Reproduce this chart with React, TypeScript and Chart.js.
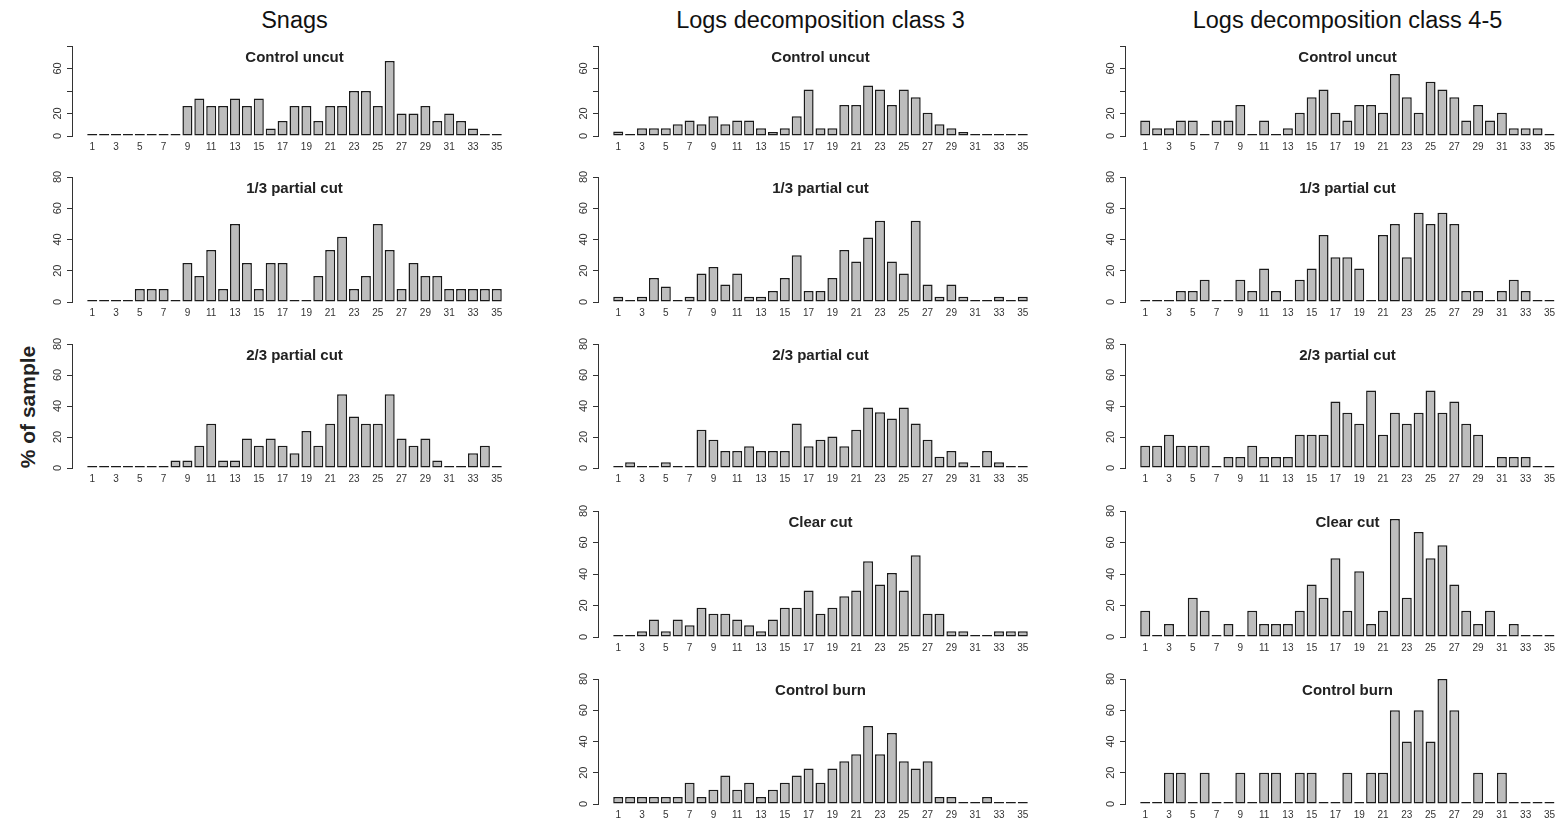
import React, { useEffect, useRef } from "react";
import { Chart, registerables } from "chart.js";

Chart.register(...registerables);

// ---- categories / tick labels ----
const sizeClasses = [1, 2, 3, 4, 5, 6, 7, 8, 9, 10, 11, 12, 13, 14, 15, 16, 17, 18, 19, 20, 21, 22, 23, 24, 25, 26, 27, 28, 29, 30, 31, 32, 33, 34, 35];
const xTickValues = [1, 3, 5, 7, 9, 11, 13, 15, 17, 19, 21, 23, 25, 27, 29, 31, 33, 35];
const yTickValues = [0, 20, 40, 60, 80];
const yLabelsTopRow = [0, 20, 60];
const yLabelsOtherRows = [0, 20, 40, 60, 80];

const columnTitles = ["Snags", "Logs decomposition class 3", "Logs decomposition class 4-5"];
const yAxisTitle = "% of sample";

// ---- series values (% of sample) ----
const snagsControlUncut = [0, 0, 0, 0, 0, 0, 0, 0, 26.7, 33.3, 26.7, 26.7, 33.3, 26.7, 33.3, 6.7, 13.3, 26.7, 26.7, 13.3, 26.7, 26.7, 40, 40, 26.7, 66.7, 20, 20, 26.7, 13.3, 20, 13.3, 6.7, 0, 0];
const snagsPartial13 = [0, 0, 0, 0, 8.3, 8.3, 8.3, 0, 25, 16.7, 33.3, 8.3, 50, 25, 8.3, 25, 25, 0, 0, 16.7, 33.3, 41.7, 8.3, 16.7, 50, 33.3, 8.3, 25, 16.7, 16.7, 8.3, 8.3, 8.3, 8.3, 8.3];
const snagsPartial23 = [0, 0, 0, 0, 0, 0, 0, 4.8, 4.8, 14.3, 28.6, 4.8, 4.8, 19, 14.3, 19, 14.3, 9.5, 23.8, 14.3, 28.6, 47.6, 33.3, 28.6, 28.6, 47.6, 19, 14.3, 19, 4.8, 0, 0, 9.5, 14.3, 0];

const logs3ControlUncut = [4, 0, 7, 7, 7, 10.5, 13.8, 10.5, 17.5, 10.5, 13.8, 13.8, 7, 3.5, 7, 17.5, 41.4, 7, 7, 27.6, 27.6, 45, 41.4, 27.6, 41.4, 34.5, 20.7, 10.5, 7, 3.5, 0, 0, 0, 0, 0];
const logs3Partial13 = [3.4, 0, 3.4, 15.3, 10, 0, 3.4, 18.3, 22.4, 11.2, 18.3, 3.4, 3.4, 7, 15.3, 30, 7, 7, 15.3, 33.3, 26, 41.3, 52, 26, 18.3, 52, 11.2, 3.4, 11.2, 3.4, 0, 0, 3.4, 0, 3.4];
const logs3Partial23 = [0, 3.7, 0, 0, 3.7, 0, 0, 24.6, 18.3, 11, 11, 14, 11, 11, 11, 28.7, 14, 18.3, 20.4, 14, 24.6, 39, 36, 32, 39, 28.7, 18.3, 7.2, 11, 3.7, 0, 11, 3.7, 0, 0];
const logs3ClearCut = [0, 0, 3.7, 11.1, 3.7, 11.1, 7.4, 18.5, 14.8, 14.8, 11.1, 7.4, 3.7, 11.1, 18.5, 18.5, 29.6, 14.8, 18.5, 25.9, 29.6, 48.1, 33.3, 40.7, 29.6, 51.9, 14.8, 14.8, 3.7, 3.7, 0, 0, 3.7, 3.7, 3.7];
const logs3ControlBurn = [4.5, 4.5, 4.5, 4.5, 4.5, 4.5, 13.6, 4.5, 9.1, 18.2, 9.1, 13.6, 4.5, 9.1, 13.6, 18.2, 22.7, 13.6, 22.7, 27.3, 31.8, 50, 31.8, 45.5, 27.3, 22.7, 27.3, 4.5, 4.5, 0, 0, 4.5, 0, 0, 0];

const logs45ControlUncut = [13.8, 6.9, 6.9, 13.8, 13.8, 0, 13.8, 13.8, 27.6, 0, 13.8, 0, 6.9, 20.7, 34.5, 41.4, 20.7, 13.8, 27.6, 27.6, 20.7, 55.2, 34.5, 20.7, 48.3, 41.4, 34.5, 13.8, 27.6, 13.8, 20.7, 6.9, 6.9, 6.9, 0];
const logs45Partial13 = [0, 0, 0, 7.1, 7.1, 14.3, 0, 0, 14.3, 7.1, 21.4, 7.1, 0, 14.3, 21.4, 42.9, 28.6, 28.6, 21.4, 0, 42.9, 50, 28.6, 57.1, 50, 57.1, 50, 7.1, 7.1, 0, 7.1, 14.3, 7.1, 0, 0];
const logs45Partial23 = [14.3, 14.3, 21.4, 14.3, 14.3, 14.3, 0, 7.1, 7.1, 14.3, 7.1, 7.1, 7.1, 21.4, 21.4, 21.4, 42.9, 35.7, 28.6, 50, 21.4, 35.7, 28.6, 35.7, 50, 35.7, 42.9, 28.6, 21.4, 0, 7.1, 7.1, 7.1, 0, 0];
const logs45ClearCut = [16.7, 0, 8.3, 0, 25, 16.7, 0, 8.3, 0, 16.7, 8.3, 8.3, 8.3, 16.7, 33.3, 25, 50, 16.7, 41.7, 8.3, 16.7, 75, 25, 66.7, 50, 58.3, 33.3, 16.7, 8.3, 16.7, 0, 8.3, 0, 0, 0];
const logs45ControlBurn = [0, 0, 20, 20, 0, 20, 0, 0, 20, 0, 20, 20, 0, 20, 20, 0, 0, 20, 0, 20, 20, 60, 40, 60, 40, 80, 60, 0, 20, 0, 20, 0, 0, 0, 0];

// ---- layout (pixels) ----
const FONT = '"Liberation Sans", Arial, Helvetica, sans-serif';
const YW = 30; // y-axis box width
const TP = 8; // top padding above plot area
const XH = 18; // x-axis box height

const COLS = [
  { left: 42, width: 475, min: -0.7, max: 36.7, center: 294.5 },
  { left: 568, width: 475, min: -0.7, max: 36.7, center: 820.5 },
  { left: 1095, width: 465, min: -0.7, max: 35.85, center: 1347.5 },
];
const ROWS = [
  { top: 46, h: 90 },
  { top: 177, h: 125 },
  { top: 344, h: 124 },
  { top: 511, h: 126 },
  { top: 679, h: 125 },
];

const PANELS = [
  { col: 0, row: 0, title: "Control uncut", values: snagsControlUncut },
  { col: 0, row: 1, title: "1/3 partial cut", values: snagsPartial13 },
  { col: 0, row: 2, title: "2/3 partial cut", values: snagsPartial23 },
  { col: 1, row: 0, title: "Control uncut", values: logs3ControlUncut },
  { col: 1, row: 1, title: "1/3 partial cut", values: logs3Partial13 },
  { col: 1, row: 2, title: "2/3 partial cut", values: logs3Partial23 },
  { col: 1, row: 3, title: "Clear cut", values: logs3ClearCut },
  { col: 1, row: 4, title: "Control burn", values: logs3ControlBurn },
  { col: 2, row: 0, title: "Control uncut", values: logs45ControlUncut },
  { col: 2, row: 1, title: "1/3 partial cut", values: logs45Partial13 },
  { col: 2, row: 2, title: "2/3 partial cut", values: logs45Partial23 },
  { col: 2, row: 3, title: "Clear cut", values: logs45ClearCut },
  { col: 2, row: 4, title: "Control burn", values: logs45ControlBurn },
];

function Panel({ values, col, row }: { values: number[]; col: number; row: number }) {
  const ref = useRef<HTMLCanvasElement>(null);
  const c = COLS[col];
  const r = ROWS[row];
  const height = TP + r.h + XH;

  useEffect(() => {
    const labels = row === 0 ? yLabelsTopRow : yLabelsOtherRows;
    const rotatedYLabels = {
      id: "rotatedYLabels",
      afterDraw(chart: any) {
        const ys = chart.scales.y;
        const ctx = chart.ctx;
        ctx.save();
        ctx.fillStyle = "#333";
        ctx.font = `11px ${FONT}`;
        ctx.textAlign = "center";
        ctx.textBaseline = "middle";
        for (const v of labels) {
          const py = ys.getPixelForValue(v);
          ctx.save();
          ctx.translate(chart.chartArea.left - 14, py);
          ctx.rotate(-Math.PI / 2);
          ctx.fillText(String(v), 0, 0);
          ctx.restore();
        }
        ctx.restore();
      },
    };
    const chart = new Chart(ref.current as HTMLCanvasElement, {
      type: "bar",
      data: {
        datasets: [
          {
            data: values.map((v, i) => ({ x: sizeClasses[i], y: v })),
            backgroundColor: "#bdbdbd",
            borderColor: "#1a1a1a",
            borderWidth: 1.5,
            borderSkipped: false,
            categoryPercentage: 1,
            barPercentage: 0.84,
            minBarLength: 2,
          } as any,
        ],
      },
      options: {
        responsive: false,
        animation: false,
        devicePixelRatio: 1,
        layout: { padding: { top: TP, left: 0, right: 0, bottom: 0 } },
        plugins: { legend: { display: false }, tooltip: { enabled: false }, title: { display: false } },
        scales: {
          x: {
            type: "linear",
            min: c.min,
            max: c.max,
            bounds: "data",
            offset: false,
            grid: { display: false, drawTicks: false },
            border: { display: false },
            afterBuildTicks: (s: any) => {
              s.ticks = xTickValues.map((v) => ({ value: v }));
            },
            afterFit: (s: any) => {
              s.height = XH;
            },
            ticks: {
              autoSkip: false,
              maxRotation: 0,
              minRotation: 0,
              padding: 5,
              color: "#333",
              font: { size: 10, family: FONT },
              callback: (v: any) => String(v),
            },
          },
          y: {
            type: "linear",
            min: 0,
            max: 80,
            position: "left",
            afterBuildTicks: (s: any) => {
              s.ticks = yTickValues.map((v) => ({ value: v }));
            },
            afterFit: (s: any) => {
              s.width = YW;
            },
            grid: { display: true, drawOnChartArea: false, drawTicks: true, tickLength: 5, color: "#333", lineWidth: 1 },
            border: { display: true, color: "#333", width: 1 },
            ticks: { display: false },
          },
        },
      } as any,
      plugins: [rotatedYLabels],
    });
    return () => chart.destroy();
  }, []);

  return (
    <canvas
      ref={ref}
      width={c.width}
      height={height}
      style={{ position: "absolute", left: c.left, top: r.top - TP, width: c.width, height }}
    />
  );
}

export default function App() {
  return (
    <div
      style={{
        position: "fixed",
        left: 0,
        top: 0,
        width: 1560,
        height: 822,
        overflow: "hidden",
        background: "#fff",
        fontFamily: FONT,
      }}
    >
      {PANELS.map((p, i) => (
        <Panel key={i} values={p.values} col={p.col} row={p.row} />
      ))}
      {PANELS.map((p, i) => (
        <div
          key={"t" + i}
          style={{
            position: "absolute",
            left: COLS[p.col].center,
            top: ROWS[p.row].top + 10,
            transform: "translate(-50%, -50%)",
            fontWeight: "bold",
            fontSize: 15,
            color: "#222",
            whiteSpace: "nowrap",
            lineHeight: 1,
          }}
        >
          {p.title}
        </div>
      ))}
      {columnTitles.map((t, i) => (
        <div
          key={"c" + i}
          style={{
            position: "absolute",
            left: COLS[i].center,
            top: 21,
            transform: "translate(-50%, -50%)",
            fontSize: 23.5,
            color: "#111",
            whiteSpace: "nowrap",
            lineHeight: 1,
          }}
        >
          {t}
        </div>
      ))}
      <div
        style={{
          position: "absolute",
          left: 27,
          top: 407,
          transform: "translate(-50%, -50%) rotate(-90deg)",
          fontWeight: "bold",
          fontSize: 21,
          color: "#222",
          whiteSpace: "nowrap",
          lineHeight: 1,
        }}
      >
        {yAxisTitle}
      </div>
    </div>
  );
}
